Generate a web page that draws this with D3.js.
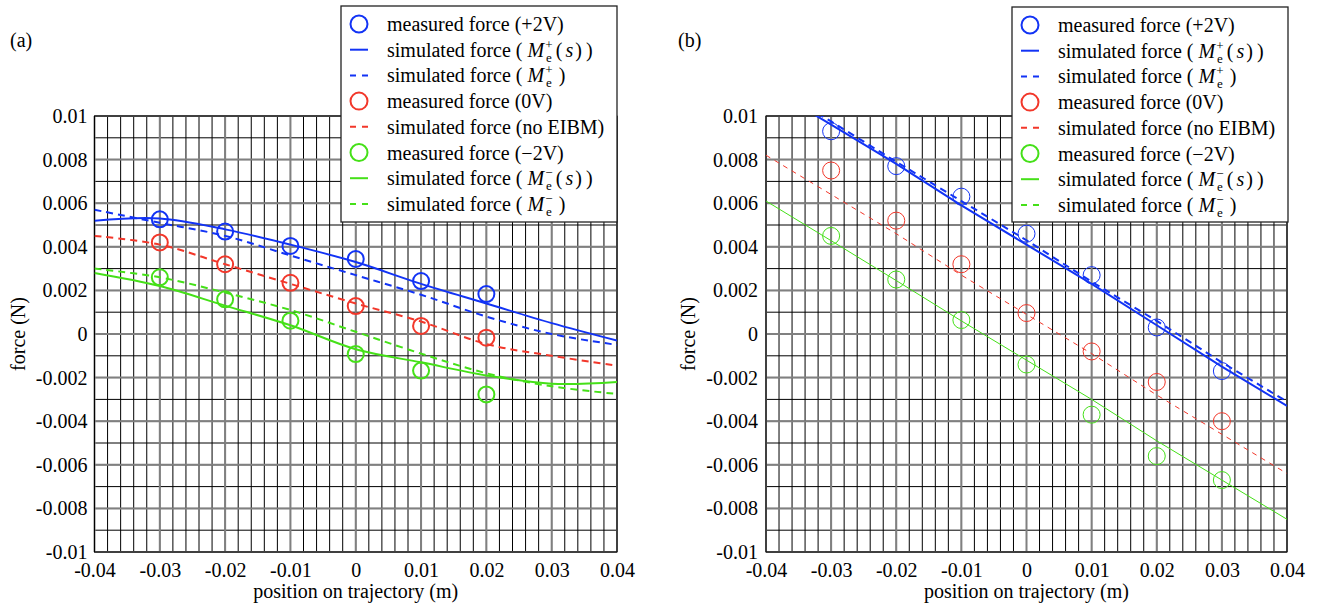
<!DOCTYPE html>
<html><head><meta charset="utf-8">
<script src="https://cdn.jsdelivr.net/npm/d3@7"></script>
<style>body{margin:0;background:#fff}svg{display:block}</style>
</head><body><svg id="c" width="1319" height="608"></svg>
<script>
// ---------- data ----------
const xTicks = [-0.04,-0.03,-0.02,-0.01,0,0.01,0.02,0.03,0.04];
const xTickLabels = ["-0.04","-0.03","-0.02","-0.01","0","0.01","0.02","0.03","0.04"];
const yTicks = [-0.01,-0.008,-0.006,-0.004,-0.002,0,0.002,0.004,0.006,0.008,0.01];
const yTickLabels = ["-0.01","-0.008","-0.006","-0.004","-0.002","0","0.002","0.004","0.006","0.008","0.01"];
const measX = [-0.03,-0.02,-0.01,0,0.01,0.02,0.03];
const simX = [-0.04,-0.03,-0.02,-0.01,0,0.01,0.02,0.03,0.04];

// panel (a)
const a_measPlus  = [0.00526,0.0047,0.00404,0.00344,0.00243,0.00183];
const a_measZero  = [0.0042,0.0032,0.00235,0.00128,0.00037,-0.00017];
const a_measMinus = [0.0026,0.00159,0.00061,-0.00092,-0.00168,-0.00277];
const a_simPlusS  = [0.0052,0.0053,0.0048,0.0041,0.0033,0.0023,0.0014,0.0005,-0.0003];
const a_simPlus   = [0.0057,0.0051,0.0045,0.0036,0.0027,0.0018,0.0008,0.0000,-0.0005];
const a_simNone   = [0.0045,0.0041,0.0032,0.0023,0.0014,0.00057,-0.00046,-0.0010,-0.00145];
const a_simMinusS = [0.0028,0.0022,0.0013,0.0004,-0.0007,-0.0013,-0.0019,-0.00228,-0.0022];
const a_simMinus  = [0.0030,0.0026,0.0019,0.0011,0.0001,-0.0009,-0.0018,-0.0024,-0.00275];

// panel (b)
const b_measPlus  = [0.0093,0.0077,0.0063,0.0046,0.0027,0.0003,-0.0017];
const b_measZero  = [0.0075,0.0052,0.0032,0.00096,-0.0008,-0.0022,-0.0040];
const b_measMinus = [0.0045,0.0025,0.00064,-0.0014,-0.0037,-0.0056,-0.0067];
const b_simPlusS  = [0.0114,0.0096,0.0078,0.0059,0.0041,0.0023,0.0004,-0.0015,-0.0033];
const b_simPlus   = [0.01155,0.00975,0.0079,0.0061,0.0043,0.0024,0.0006,-0.0013,-0.0031];
const b_simNone   = [0.0082,0.0064,0.0046,0.0027,0.0009,-0.0009,-0.0028,-0.0046,-0.0064];
const b_simMinusS = [0.0061,0.00428,0.00245,0.0006,-0.0012,-0.0030,-0.0049,-0.0067,-0.0085];

const BLUE="#1233f5", RED="#f2372a", GREEN="#45e018";
const FONT = "'Liberation Serif','Times New Roman',Times,'DejaVu Serif',serif";

// ---------- drawing ----------
const svg = d3.select("#c");

function measure(t, sz, it){
  const tmp = svg.append("text").attr("font-family",FONT).attr("font-size",sz).attr("font-style",it?"italic":"normal").text(t);
  const w = tmp.node().getComputedTextLength();
  tmp.remove();
  return w;
}

function richText(g, x, y, segs){
  const t = g.append("text").attr("x",x).attr("y",y).attr("font-family",FONT).attr("font-size",20).attr("fill","#000");
  let cur = 0;
  segs.forEach(s=>{
    if(s.sup!==undefined){
      const wSup = measure(s.sup,13,false), wSub = measure(s.sub,13,false);
      t.append("tspan").attr("font-size",13).attr("dy",-8-cur).attr("dx",1).text(s.sup);
      t.append("tspan").attr("font-size",13).attr("dx",-(wSup+wSub)/2).attr("dy",13).text(s.sub);
      cur = 5;
      if(wSup>wSub) t.append("tspan").attr("font-size",13).attr("dx",(wSup-wSub)/2).text("");
    } else {
      const ts = t.append("tspan").attr("dy",-cur).text(s.t);
      if(s.dx) ts.attr("dx",s.dx);
      cur = 0;
      if(s.it) ts.attr("font-style","italic");
    }
  });
}

function panel(cfg){
  const x = d3.scaleLinear().domain([-0.04,0.04]).range(cfg.xr);
  const y = d3.scaleLinear().domain([-0.01,0.01]).range([552,116]);
  const g = svg.append("g");
  const clipId = "clip"+cfg.id;
  svg.append("clipPath").attr("id",clipId).append("rect")
    .attr("x",cfg.xr[0]).attr("y",116).attr("width",cfg.xr[1]-cfg.xr[0]).attr("height",552-116);

  const minorX = d3.range(-20,21).map(i=>i*0.002);
  const minorY = d3.range(-10,11).map(i=>i*0.001);
  g.selectAll(".mx").data(minorX).join("line")
    .attr("x1",d=>x(d)).attr("x2",d=>x(d)).attr("y1",116).attr("y2",552)
    .attr("stroke","#000").attr("stroke-width",1);
  g.selectAll(".my").data(minorY).join("line")
    .attr("y1",d=>y(d)).attr("y2",d=>y(d)).attr("x1",cfg.xr[0]).attr("x2",cfg.xr[1])
    .attr("stroke","#000").attr("stroke-width",1);
  g.selectAll(".Mx").data(xTicks).join("line")
    .attr("x1",d=>x(d)).attr("x2",d=>x(d)).attr("y1",116).attr("y2",552)
    .attr("stroke","#808080").attr("stroke-width",2);
  g.selectAll(".My").data(yTicks).join("line")
    .attr("y1",d=>y(d)).attr("y2",d=>y(d)).attr("x1",cfg.xr[0]).attr("x2",cfg.xr[1])
    .attr("stroke","#808080").attr("stroke-width",2);
  g.append("rect").attr("x",cfg.xr[0]).attr("y",116).attr("width",cfg.xr[1]-cfg.xr[0]).attr("height",436)
    .attr("fill","none").attr("stroke","#000").attr("stroke-width",1);

  const xa = d3.axisBottom(x).tickValues(xTicks).tickFormat((d,i)=>xTickLabels[i]).tickSize(0).tickPadding(11);
  const gx = g.append("g").attr("transform","translate(0,552)").call(xa)
    .attr("font-family",FONT).attr("font-size",20);
  gx.select(".domain").remove();
  gx.selectAll("text").attr("fill","#000");
  const ya = d3.axisLeft(y).tickValues(yTicks).tickFormat((d,i)=>yTickLabels[i]).tickSize(0).tickPadding(cfg.ypad);
  const gy = g.append("g").attr("transform",`translate(${cfg.xr[0]},0)`).call(ya)
    .attr("font-family",FONT).attr("font-size",20);
  gy.select(".domain").remove();
  gy.selectAll("text").attr("fill","#000");

  g.append("text").attr("x",x(0)).attr("y",598).attr("text-anchor","middle").attr("font-family",FONT).attr("font-size",20).text("position on trajectory (m)");
  g.append("text").attr("transform",`translate(${cfg.ytx},334) rotate(-90)`).attr("text-anchor","middle").attr("font-family",FONT).attr("font-size",20).text("force (N)");
  g.append("text").attr("x",cfg.labx).attr("y",47).attr("font-family",FONT).attr("font-size",20).text(cfg.lab);

  const lg = g.append("g").attr("clip-path",`url(#${clipId})`);
  cfg.lines.forEach(L=>{
    const line = d3.line().x((d,i)=>x(simX[i])).y(d=>y(d)).curve(L.curve||d3.curveCatmullRom.alpha(0.5));
    lg.append("path").datum(L.data).attr("d",line).attr("fill","none")
      .attr("stroke",L.c).attr("stroke-width",L.w).attr("stroke-dasharray",L.dash||null);
  });
  cfg.points.forEach(P=>{
    lg.selectAll(null).data(P.data).join("circle")
      .attr("cx",(d,i)=>x(measX[i])).attr("cy",d=>y(d)).attr("r",P.r)
      .attr("fill","none").attr("stroke",P.c).attr("stroke-width",P.w);
  });

  const L = cfg.legend;
  const lgd = svg.append("g");
  lgd.append("rect").attr("x",L.x).attr("y",L.y).attr("width",L.w).attr("height",L.h)
    .attr("fill","#fff").attr("stroke","#222").attr("stroke-width",1.3);
  const sx = L.x+18, tx = L.x+46;
  const items = [
    {type:"c",c:BLUE, segs:[{t:"measured force (+2V)"}]},
    {type:"l",c:BLUE, segs:[{t:"simulated force ( "},{t:"M",it:true},{sup:"+",sub:"e"},{t:"(",dx:4},{t:"s",it:true,dx:3},{t:")",dx:2},{t:")",dx:4}]},
    {type:"d",c:BLUE, segs:[{t:"simulated force ( "},{t:"M",it:true},{sup:"+",sub:"e"},{t:")",dx:7}]},
    {type:"c",c:RED, segs:[{t:"measured force (0V)"}]},
    {type:"d",c:RED, segs:[{t:"simulated force (no EIBM)"}]},
    {type:"c",c:GREEN, segs:[{t:"measured force (\u22122V)"}]},
    {type:"l",c:GREEN, segs:[{t:"simulated force ( "},{t:"M",it:true},{sup:"\u2212",sub:"e"},{t:"(",dx:4},{t:"s",it:true,dx:3},{t:")",dx:2},{t:")",dx:4}]},
    {type:"d",c:GREEN, segs:[{t:"simulated force ( "},{t:"M",it:true},{sup:"\u2212",sub:"e"},{t:")",dx:7}]}
  ];
  items.forEach((it,i)=>{
    const cy = L.y + 18 + i*25.7;
    if(it.type==="c") lgd.append("circle").attr("cx",sx).attr("cy",cy).attr("r",8.5).attr("fill","none").attr("stroke",it.c).attr("stroke-width",2);
    else lgd.append("line").attr("x1",sx-9).attr("x2",sx+9).attr("y1",cy).attr("y2",cy)
      .attr("stroke",it.c).attr("stroke-width",2).attr("stroke-dasharray",it.type==="d"?"6,6":null);
    richText(lgd, tx, cy+7, it.segs);
  });
}

panel({id:"a", xr:[94.5,617], ypad:7, ytx:25, labx:10, lab:"(a)",
  legend:{x:341,y:6,w:276,h:216},
  lines:[
    {data:a_simPlusS,c:BLUE,w:2},
    {data:a_simPlus,c:BLUE,w:2,dash:"7,5"},
    {data:a_simNone,c:RED,w:2,dash:"7,5"},
    {data:a_simMinusS,c:GREEN,w:2},
    {data:a_simMinus,c:GREEN,w:2,dash:"7,5"}
  ],
  points:[
    {data:a_measPlus,c:BLUE,r:8,w:2},
    {data:a_measZero,c:RED,r:8,w:2},
    {data:a_measMinus,c:GREEN,r:8,w:2}
  ]});

panel({id:"b", xr:[766,1287], ypad:8, ytx:695, labx:678, lab:"(b)",
  legend:{x:1012,y:7,w:276,h:215},
  lines:[
    {data:b_simPlus,c:BLUE,w:2,dash:"7,5",curve:d3.curveLinear},
    {data:b_simPlusS,c:BLUE,w:2,curve:d3.curveLinear},
    {data:b_simNone,c:RED,w:1,dash:"5,5",curve:d3.curveLinear},
    {data:b_simMinusS,c:GREEN,w:1,curve:d3.curveLinear}
  ],
  points:[
    {data:b_measPlus,c:BLUE,r:8.5,w:1},
    {data:b_measZero,c:RED,r:8.5,w:1},
    {data:b_measMinus,c:GREEN,r:8.5,w:1}
  ]});
</script></body></html>
